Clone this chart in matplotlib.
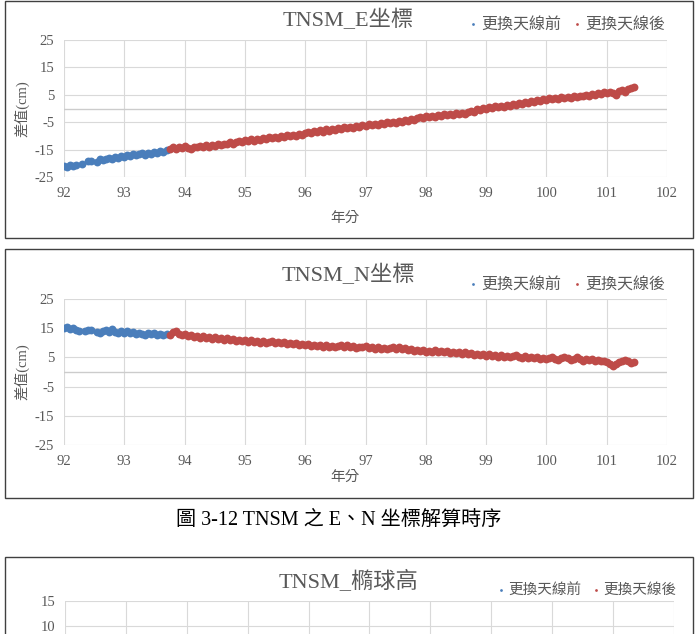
import numpy as np
import matplotlib.pyplot as plt
from matplotlib.patches import Rectangle

plt.rcParams['font.family'] = ['Liberation Serif', 'Noto Sans CJK TC']
plt.rcParams['axes.unicode_minus'] = False

# time grids (year, ROC calendar)
yr_before = np.round(np.arange(92.00, 93.70 + 0.001, 0.05), 2)
yr_after = np.round(np.arange(93.75, 101.45 + 0.001, 0.05), 2)
nan = np.nan

# E coordinate (cm)
e_before = [-21.0, -21.3, -20.8, -21.0, -20.5, nan, -20.2, nan, -19.3, -19.0,
            nan, -19.6, -18.5, -18.8, -18.4, -18.0, -18.3, -17.6, -17.9, -17.3,
            -17.8, -17.0, -17.4, -16.5, -17.0, -16.6, -16.4, -16.8, -16.2, -16.5,
            -15.9, -16.2, -15.5, -15.8, -15.3]
e_after = [-14.8, -14.2, -14.6, -14.0, -14.5, -13.8, -14.3, -14.6, -13.9, -14.2,
           -13.6, -14.1, -13.5, -13.9, -13.2, -13.7, -12.9, -13.4, -12.8, -13.1,
           -12.4, -12.9, -12.2, -11.8, -12.3, -11.5, -11.9, -11.2, -11.7, -11.0,
           -11.4, -10.8, -11.2, -10.5, -10.9, -10.3, -10.7, -10.0, -10.4, -9.8,
           -10.2, -9.5, -9.9, -9.2, -9.6, -9.0, -8.6, -9.1, -8.3, -8.7,
           -8.0, -8.4, -7.6, -8.1, -7.3, -7.7, -7.0, -7.4, -6.8, -7.2,
           -6.6, -7.0, -6.3, -6.7, -6.0, -6.4, -5.8, -6.2, -5.5, -5.9,
           -5.3, -5.7, -5.0, -5.4, -4.8, -5.2, -4.5, -4.9, -4.2, -4.6,
           -3.9, -4.3, -3.6, -3.1, -3.5, -2.8, -3.2, -2.6, -3.0, -2.4,
           -2.8, -2.1, -2.5, -1.9, -2.3, -1.7, -2.1, -1.5, -1.9, -1.2,
           -0.8, -1.2, -0.3, -0.7, 0.2, -0.2, 0.6, 0.1, 0.8, 0.4,
           1.0, 0.6, 1.3, 0.9, 1.6, 1.2, 1.9, 1.5, 2.3, 1.9,
           2.7, 2.3, 3.1, 2.8, 3.5, 3.1, 3.8, 3.4, 3.9, 3.6,
           4.1, 3.7, 4.3, 3.9, 4.5, 4.1, 4.7, 4.4, 5.0, 4.6,
           5.3, 4.9, 5.6, 5.2, 5.9, 5.5, 6.2, 5.6, 5.1, 6.3,
           6.6, 6.2, 7.0, 7.4, 7.8]

# N coordinate (cm)
n_before = [15.0, 15.4, 14.6, 15.2, 14.4, 14.2, nan, 14.0, 14.5, 14.3,
            nan, 13.7, 13.3, 13.9, 14.4, 13.6, 14.6, 13.8, 13.2, 14.0,
            13.5, 13.9, 13.2, 13.6, 13.0, 13.5, 13.1, 12.8, 13.3, 12.9,
            13.4, 12.7, 13.1, 12.6, 12.9]
n_after = [12.8, 13.6, 14.2, 13.1, 12.6, 13.0, 12.3, 12.7, 12.0, 12.4,
           11.8, 12.2, 11.6, 12.0, 11.4, 11.9, 11.3, 11.7, 11.1, 11.5,
           10.9, 11.3, 10.7, 11.1, 10.5, 10.9, 10.3, 10.8, 10.2, 10.6,
           10.0, 10.5, 9.9, 10.3, 10.6, 10.1, 10.4, 9.8, 10.2, 9.7,
           10.0, 9.5, 9.9, 9.3, 9.7, 9.2, 9.5, 9.0, 9.4, 8.8,
           9.2, 8.7, 9.1, 8.6, 9.0, 8.5, 8.9, 9.3, 8.7, 9.1,
           8.5, 8.9, 8.3, 8.7, 8.4, 8.8, 8.2, 8.6, 8.0, 8.5,
           7.9, 8.3, 7.8, 8.2, 8.6, 8.0, 8.4, 7.8, 8.1, 7.6,
           7.9, 7.3, 7.7, 7.1, 7.5, 6.9, 7.3, 7.0, 7.4, 6.8,
           7.2, 6.7, 7.1, 6.5, 6.9, 6.4, 6.8, 6.3, 6.7, 6.1,
           6.5, 5.9, 6.3, 5.7, 6.1, 5.6, 6.0, 5.5, 5.9, 5.3,
           5.8, 5.2, 5.6, 5.0, 5.5, 5.9, 5.3, 4.8, 5.4, 4.9,
           5.3, 4.7, 5.1, 4.5, 4.9, 4.3, 4.8, 5.2, 4.6, 4.1,
           4.7, 5.3, 4.8, 4.2, 4.6, 5.1, 4.4, 3.9, 4.5, 4.0,
           4.4, 3.8, 4.2, 3.6, 3.9, 3.3, 2.6, 2.0, 2.8, 3.4,
           3.9, 4.2, 3.6, 3.0, 3.4]

year_ticks = list(range(92, 103))
legend_labels = ['更換天線前', '更換天線後']
c_before = '#4A7EBB'
c_after = '#BE4B48'
txt = '#595959'
msize = 32

W, H = 700, 634
fig = plt.figure(figsize=(7, 6.34), dpi=100)


def fx(px):
    return px / W


def fy(py):
    return 1 - py / H


def box(top, bottom):
    fig.patches.append(Rectangle((fx(5), fy(bottom)), fx(688), (bottom - top) / H,
                                 transform=fig.transFigure, fill=False,
                                 ec='#404040', lw=1.0))


def style(ax, yticks, ylim):
    ax.set_xlim(92, 102)
    ax.set_ylim(ylim)
    ax.set_xticks(year_ticks)
    ax.set_yticks(yticks)
    ax.grid(color='#d9d9d9', lw=0.8)
    ax.set_axisbelow(True)
    for s in ax.spines.values():
        s.set_visible(False)
    ax.tick_params(length=0, labelsize=10.5, labelcolor=txt, pad=7)


def add_legend(ax, handles, x, y, size):
    ax.legend(handles, legend_labels, loc='center',
              bbox_to_anchor=(fx(x), fy(y)), bbox_transform=fig.transFigure,
              ncol=2, frameon=False, handletextpad=0.1, columnspacing=0.6,
              handlelength=0.8, markerscale=0.35, labelcolor=txt,
              prop={'family': ['Noto Sans CJK TC'], 'size': size})


def panel(top_px, bot_px, before, after, title, title_y, leg_y, xlab_y):
    ax = fig.add_axes([fx(64), fy(bot_px), fx(667 - 64), (bot_px - top_px) / H])
    style(ax, [-25, -15, -5, 5, 15, 25], (-25, 25))
    ax.axhline(0, color='#cccccc', lw=1.0, zorder=1)
    h1 = ax.scatter(yr_before, before, s=msize, color=c_before, lw=0, zorder=3)
    h2 = ax.scatter(yr_after, after, s=msize, color=c_after, lw=0, zorder=3)
    add_legend(ax, [h1, h2], 566, leg_y, 11.5)
    fig.text(fx(348), fy(title_y), title, ha='center', va='center',
             fontsize=16, color=txt)
    fig.text(fx(22), fy((top_px + bot_px) / 2), '差值(cm)', rotation=90,
             ha='center', va='center', fontsize=10.5, color=txt)
    fig.text(fx(345), fy(xlab_y), '年分', ha='center', va='center',
             fontsize=10.5, color=txt)
    return ax


box(1, 238)
panel(40, 177, e_before, e_after, 'TNSM_E坐標', 20, 24, 218)

box(249, 498)
panel(299, 445, n_before, n_after, 'TNSM_N坐標', 275, 284, 477)

fig.text(fx(339), fy(520), '圖 3-12 TNSM 之 E、N 坐標解算時序', ha='center',
         va='center', fontsize=14.5, color='black')

# third chart, cut off at the bottom of the page
box(557, 700)
ax3 = fig.add_axes([fx(65), 0, fx(674 - 65), (634 - 601) / H])
style(ax3, [10, 15], (8.4, 15))
ax3.set_xticklabels([])
g1 = ax3.scatter([], [], s=msize, color=c_before, lw=0)
g2 = ax3.scatter([], [], s=msize, color=c_after, lw=0)
add_legend(ax3, [g1, g2], 586, 590, 10.5)
fig.text(fx(348), fy(582), 'TNSM_橢球高', ha='center', va='center',
         fontsize=16, color=txt)

fig.savefig('out.png', dpi=100)
